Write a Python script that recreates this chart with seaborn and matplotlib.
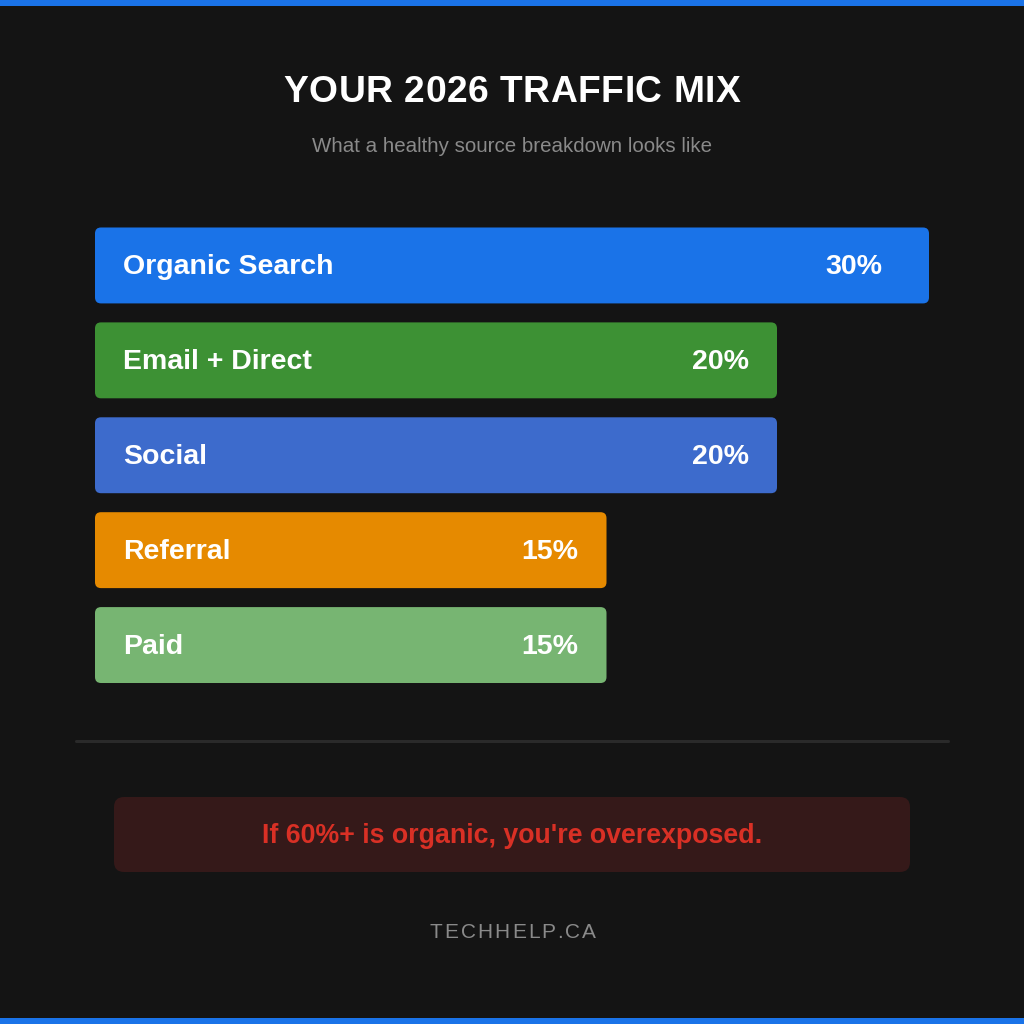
import pandas as pd
import matplotlib.pyplot as plt
import seaborn as sns
from matplotlib.patches import FancyBboxPatch, Rectangle

# Data
sources = ["Organic Search", "Email + Direct", "Social", "Referral", "Paid"]
shares = [30, 20, 20, 15, 15]
bar_colors = ["#1a73e8", "#3d9134", "#3d6bcc", "#e68a00", "#77b572"]
value_labels = ["30%", "20%", "20%", "15%", "15%"]

title = "YOUR 2026 TRAFFIC MIX"
subtitle = "What a healthy source breakdown looks like"
callout = "If 60%+ is organic, you're overexposed."
footer = "TECHHELP.CA"

df = pd.DataFrame({"source": sources, "share": shares})

sns.set_theme(style="white")
plt.rcParams["font.family"] = ["Liberation Sans", "DejaVu Sans"]

BG = "#141414"
fig = plt.figure(figsize=(10.24, 10.24), dpi=100, facecolor=BG)

# overlay axes in pixel coords for decoration
deco = fig.add_axes([0, 0, 1, 1])
deco.set_xlim(0, 1024)
deco.set_ylim(1024, 0)
deco.axis("off")
deco.set_facecolor(BG)
deco.add_patch(Rectangle((0, 0), 1024, 6, color="#1a73e8", lw=0))
deco.add_patch(Rectangle((0, 1018), 1024, 6, color="#1a73e8", lw=0))
deco.text(512, 146, subtitle, color="#8a8a8a", fontsize=14.8, ha="center", va="center")
deco.plot([76, 948], [741, 741], color="#2a2a2a", lw=2.2)
deco.add_patch(FancyBboxPatch((114, 797), 796, 75, boxstyle="round,pad=0,rounding_size=10",
                              fc="#351919", ec="none"))
deco.text(512, 836, callout, color="#d93025", fontsize=19.3, fontweight="bold",
          ha="center", va="center")


def spaced(text, cx, cy, spacing, **kw):
    # letter-spaced text, one glyph at a time
    renderer = fig.canvas.get_renderer()
    glyphs = [deco.text(0, cy, ch, ha="left", va="center", **kw) for ch in text]
    widths = [g.get_window_extent(renderer).width for g in glyphs]
    x = cx - (sum(widths) + spacing * (len(glyphs) - 1)) / 2
    for g, w in zip(glyphs, widths):
        g.set_x(x)
        x += w + spacing


spaced(title, 512, 92, 0.5, color="white", fontsize=26.8, fontweight="bold")
spaced(footer, 513, 933, 2.0, color="#8a8a8a", fontsize=15)

# bar axes: 95..929 px wide, bars 228..683 px
px_per_unit = 34.1
ax_w = 834
xmax = ax_w / px_per_unit
ax = fig.add_axes([95 / 1024, 1 - 692.5 / 1024, ax_w / 1024, 474.5 / 1024])
ax.set_facecolor("none")
sns.barplot(data=df, x="share", y="source", hue="source", palette=bar_colors,
            legend=False, width=0.8, saturation=1, ax=ax)
ax.set_xlim(0, xmax)
ax.set_ylim(4.5, -0.5)
ax.axis("off")

# swap plain rectangles for rounded ones, capped at the container width
r_x = 6 / px_per_unit
aspect = (1 / 95) / (1 / px_per_unit)
for p in list(ax.patches):
    x0, y0, w, h = p.get_x(), p.get_y(), p.get_width(), p.get_height()
    fc = p.get_facecolor()
    p.remove()
    ax.add_patch(FancyBboxPatch((x0, y0), min(w, xmax), h,
                                boxstyle=f"round,pad=0,rounding_size={r_x}",
                                mutation_aspect=aspect, fc=fc, ec="none"))

dy = -2 * 0.72
for i, (name, val, lab) in enumerate(zip(sources, shares, value_labels)):
    ax.annotate(name, xy=(0, i), xytext=(28 * 0.72, dy), textcoords="offset points",
                color="white", fontsize=20.5, fontweight="bold", ha="left", va="center")
    pad = 47 if val > xmax else 28
    ax.annotate(lab, xy=(min(val, xmax), i), xytext=(-pad * 0.72, dy),
                textcoords="offset points", color="white", fontsize=20.5,
                fontweight="bold", ha="right", va="center")

fig.savefig("out.png", dpi=100, facecolor=BG)
